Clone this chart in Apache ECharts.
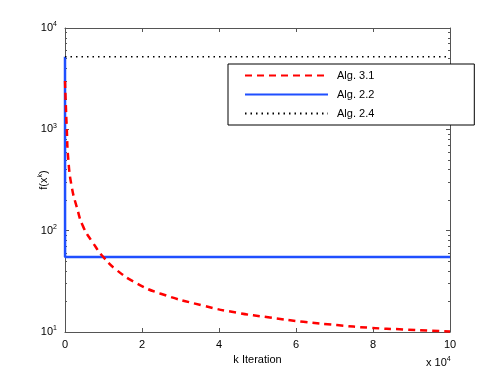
<!DOCTYPE html>
<html>
<head>
<meta charset="utf-8">
<script src="https://cdn.jsdelivr.net/npm/echarts@6/dist/echarts.min.js"></script>
<style>
html, body { margin: 0; padding: 0; background: #fff; }
#chart { width: 498px; height: 375px; }
</style>
</head>
<body>
<div id="chart"></div>
<script>
// iterations are in units of 10^4
var kAlg31 = [0, 0.02, 0.044, 0.086, 0.174, 0.304, 0.475, 0.735, 0.995, 1.343, 1.862, 2.468, 3.59, 4.46, 5.32, 6.19, 7.06, 7.92, 8.79, 10];
var fAlg31 = [3000, 1800, 1060, 500, 272, 172, 109, 75, 55, 40.8, 30.2, 24.0, 18.2, 15.5, 13.9, 12.6, 11.7, 11.0, 10.6, 10.1];
var kAlg22 = [0, 0.002, 10];
var fAlg22 = [5200, 55, 55];
var kAlg24 = [0, 10];
var fAlg24 = [5200, 5200];
var legendNames = ['Alg. 3.1', 'Alg. 2.2', 'Alg. 2.4'];

function pairs(xs, ys) {
    return xs.map(function (x, i) { return [x, ys[i]]; });
}

var axisColor = '#555';
var font = 'Liberation Sans, Arial, sans-serif';

var chart = echarts.init(document.getElementById('chart'), null, { renderer: 'canvas' });

var expLabel = {
    fontFamily: font,
    fontSize: 11,
    color: '#000',
    formatter: function (v) {
        return '{b|10}{s|' + Math.round(Math.log10(v)) + '}';
    },
    rich: {
        b: { fontFamily: font, fontSize: 11, color: '#000' },
        s: { fontFamily: font, fontSize: 7, color: '#000', verticalAlign: 'top', padding: [0, 0, 7, 0] }
    }
};

var option = {
    backgroundColor: '#fff',
    animation: false,
    grid: { left: 65, right: 48, top: 28, bottom: 43 },
    legend: {
        orient: 'vertical',
        left: 228,
        top: 64,
        width: 219,
        backgroundColor: '#fff',
        borderColor: '#000',
        borderWidth: 1,
        padding: [6, 100, 6, 16],
        itemGap: 8,
        itemWidth: 83,
        itemHeight: 12,
        itemStyle: { opacity: 0 },
        data: legendNames,
        textStyle: { fontFamily: font, fontSize: 11, color: '#000', padding: [0, 0, 0, 4] }
    },
    xAxis: [{
        type: 'value',
        min: 0, max: 10, interval: 2,
        name: 'k Iteration',
        nameLocation: 'middle',
        nameGap: 20,
        nameTextStyle: { fontFamily: font, fontSize: 11, color: '#000' },
        axisLine: { show: true, onZero: false, lineStyle: { color: axisColor, width: 1 } },
        axisTick: { inside: true, length: 4, lineStyle: { color: axisColor } },
        axisLabel: { fontFamily: font, fontSize: 11, color: '#000', margin: 7 },
        splitLine: { show: false }
    }, {
        type: 'value',
        position: 'top',
        min: 0, max: 10, interval: 2,
        axisLine: { show: true, onZero: false, lineStyle: { color: axisColor, width: 1 } },
        axisTick: { inside: true, length: 4, lineStyle: { color: axisColor } },
        axisLabel: { show: false },
        splitLine: { show: false }
    }],
    yAxis: [{
        type: 'log',
        logBase: 10,
        min: 10, max: 10000,
        name: '{n|f(x}{s|k}{n|)}',
        nameLocation: 'middle',
        nameGap: 14,
        nameMoveOverlap: false,
        nameRotate: 90,
        nameTextStyle: {
            rich: {
                n: { fontFamily: font, fontSize: 11, color: '#000' },
                s: { fontFamily: font, fontSize: 7, color: '#000', verticalAlign: 'top', padding: [0, 0, 7, 0] }
            }
        },
        axisLine: { show: true, onZero: false, lineStyle: { color: axisColor, width: 1 } },
        axisTick: { inside: true, length: 4, lineStyle: { color: axisColor } },
        minorTick: { show: true, splitNumber: 9, length: 2, lineStyle: { color: axisColor } },
        axisLabel: expLabel,
        splitLine: { show: false }
    }, {
        type: 'log',
        logBase: 10,
        position: 'right',
        min: 10, max: 10000,
        axisLine: { show: true, onZero: false, lineStyle: { color: axisColor, width: 1 } },
        axisTick: { inside: true, length: 4, lineStyle: { color: axisColor } },
        minorTick: { show: true, splitNumber: 9, length: 2, lineStyle: { color: axisColor } },
        axisLabel: { show: false },
        splitLine: { show: false }
    }],
    graphic: [{
        type: 'text',
        left: 426,
        top: 356,
        style: {
            text: '{b|x 10}{s|4}',
            rich: {
                b: { fontFamily: font, fontSize: 11, fill: '#000' },
                s: { fontFamily: font, fontSize: 7, fill: '#000', verticalAlign: 'top', padding: [0, 0, 7, 0] }
            }
        }
    }],
    series: [{
        name: legendNames[0],
        type: 'line',
        smooth: 0.5,
        symbol: 'none',
        data: pairs(kAlg31, fAlg31),
        lineStyle: { color: '#ff0000', width: 2.5, type: [7, 5] },
        itemStyle: { color: '#ff0000' },
        z: 3
    }, {
        name: legendNames[1],
        type: 'line',
        symbol: 'none',
        data: pairs(kAlg22, fAlg22),
        lineStyle: { color: '#1f4fff', width: 2.5 },
        itemStyle: { color: '#1f4fff' },
        z: 2
    }, {
        name: legendNames[2],
        type: 'line',
        symbol: 'none',
        data: pairs(kAlg24, fAlg24),
        lineStyle: { color: '#000', width: 1.5, type: [1.5, 4] },
        itemStyle: { color: '#000' },
        z: 2
    }]
};

chart.setOption(option);
</script>
</body>
</html>
